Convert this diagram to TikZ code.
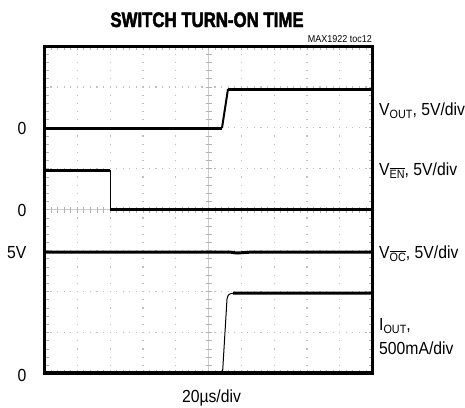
\documentclass[tikz,border=0pt]{standalone}
\usepackage{fontspec}
\setmainfont{Liberation Sans}[FakeStretch=0.9]
\newfontfamily\titlefont{Liberation Sans}[FakeStretch=0.8, BoldFeatures={FakeBold=2.2}]
\newcommand{\sbx}[1]{\raisebox{-3pt}{\fontsize{12}{12}\selectfont #1}}
\newcommand{\ovl}[1]{$\overline{\hbox{#1}}$}
\begin{document}
\begin{tikzpicture}[x=1pt,y=-1pt,
  lbl/.style={font=\fontsize{17.5}{20}\selectfont, inner sep=0pt, anchor=base west},
  ylbl/.style={font=\fontsize{17.5}{20}\selectfont, inner sep=0pt, anchor=base east},
  trace/.style={line width=3pt, black, line join=round},
  thin trace/.style={line width=1pt, black},
  gridv/.style={gray!50, line width=1.2pt, dash pattern=on 1.2pt off 6.987pt, dash phase=0.6pt},
  gridh/.style={gray!50, line width=1.2pt, dash pattern=on 1.2pt off 5.36pt, dash phase=0.6pt},
  tick/.style={gray!60, line width=0.8pt},
  frame/.style={line width=3pt, black}]
\useasboundingbox (0,0) rectangle (465,407);
\def\L{44.5}\def\R{372.5}\def\T{46}\def\B{373.5}
\def\dx{32.8}\def\dy{40.9375}
% grid
\foreach \i in {1,...,9} {\draw[gridv] ({\L+\i*\dx},\T) -- ({\L+\i*\dx},\B);}
\foreach \j in {1,...,7} {\draw[gridh] (\L,{\T+\j*\dy}) -- (\R,{\T+\j*\dy});}
% centre axes with ticks
\draw[gray!40, line width=0.6pt] ({\L+5*\dx},\T) -- ({\L+5*\dx},\B);
\draw[gray!40, line width=0.6pt] (\L,{\T+4*\dy}) -- (\R,{\T+4*\dy});
\foreach \k in {1,...,49} {
  \draw[tick] ({\L+\k*\dx/5},{\T+4*\dy-3}) -- ({\L+\k*\dx/5},{\T+4*\dy+3});
  \draw[tick] ({\L+\k*\dx/5},\T) -- ({\L+\k*\dx/5},{\T+4});
  \draw[tick] ({\L+\k*\dx/5},\B) -- ({\L+\k*\dx/5},{\B-4});
}
\foreach \k in {1,...,39} {
  \draw[tick] ({\L+5*\dx-3},{\T+\k*\dy/5}) -- ({\L+5*\dx+3},{\T+\k*\dy/5});
  \draw[tick] (\L,{\T+\k*\dy/5}) -- ({\L+4},{\T+\k*\dy/5});
  \draw[tick] (\R,{\T+\k*\dy/5}) -- ({\R-4},{\T+\k*\dy/5});
}
% traces
\draw[trace] (\L,128) -- (222,128);
\draw[line width=2pt] (222,128) -- (228,89);
\draw[trace] (228,89) -- (\R,89);
\draw[trace] (\L,170) -- (110,170);
\draw[thin trace] (110,170) -- (110,209.5);
\draw[trace] (110,209.5) -- (\R,209.5);
\draw[trace] (\L,252) -- (228,252) .. controls (232,252) and (234,253) .. (238,253) .. controls (242,253) and (244,252.2) .. (250,252.2) -- (\R,252);
\draw[thin trace] (222.5,\B) -- (227,299) .. controls (228,294) and (229.5,293.5) .. (234,293.2);
\draw[trace] (233,293.2) -- (\R,293);
\draw[trace] (\L,372.5) -- (\R,372.5);
% frame
\draw[frame] (\L,\T) rectangle (\R,\B);
% texts
\node[inner sep=0pt, anchor=base, font=\titlefont\bfseries\fontsize{21}{24}\selectfont] (title) at (207,27) {SWITCH TURN-ON TIME};
\node[inner sep=0pt, anchor=base east, font=\fontsize{10}{12}\selectfont] (code) at (372,42) {MAX1922 toc12};
\node[lbl] (vout) at (379,115) {V\sbx{OUT}, 5V/div};
\node[lbl] (ven) at (379,175) {V\sbx{\ovl{EN}}, 5V/div};
\node[lbl] (voc) at (379,258) {V\sbx{\ovl{OC}}, 5V/div};
\node[lbl] (iout) at (379,330) {I\sbx{OUT},};
\node[lbl] (iouts) at (379,354) {500mA/div};
\node[ylbl] (z1) at (26.5,134) {0};
\node[ylbl] (z2) at (26.5,216) {0};
\node[ylbl] (f5) at (26.5,258) {5V};
\node[ylbl] (z3) at (26.5,381) {0};
\node[inner sep=0pt, anchor=base, font=\fontsize{17.5}{20}\selectfont] (tb) at (211.5,402) {20µs/div};
\end{tikzpicture}
\end{document}
